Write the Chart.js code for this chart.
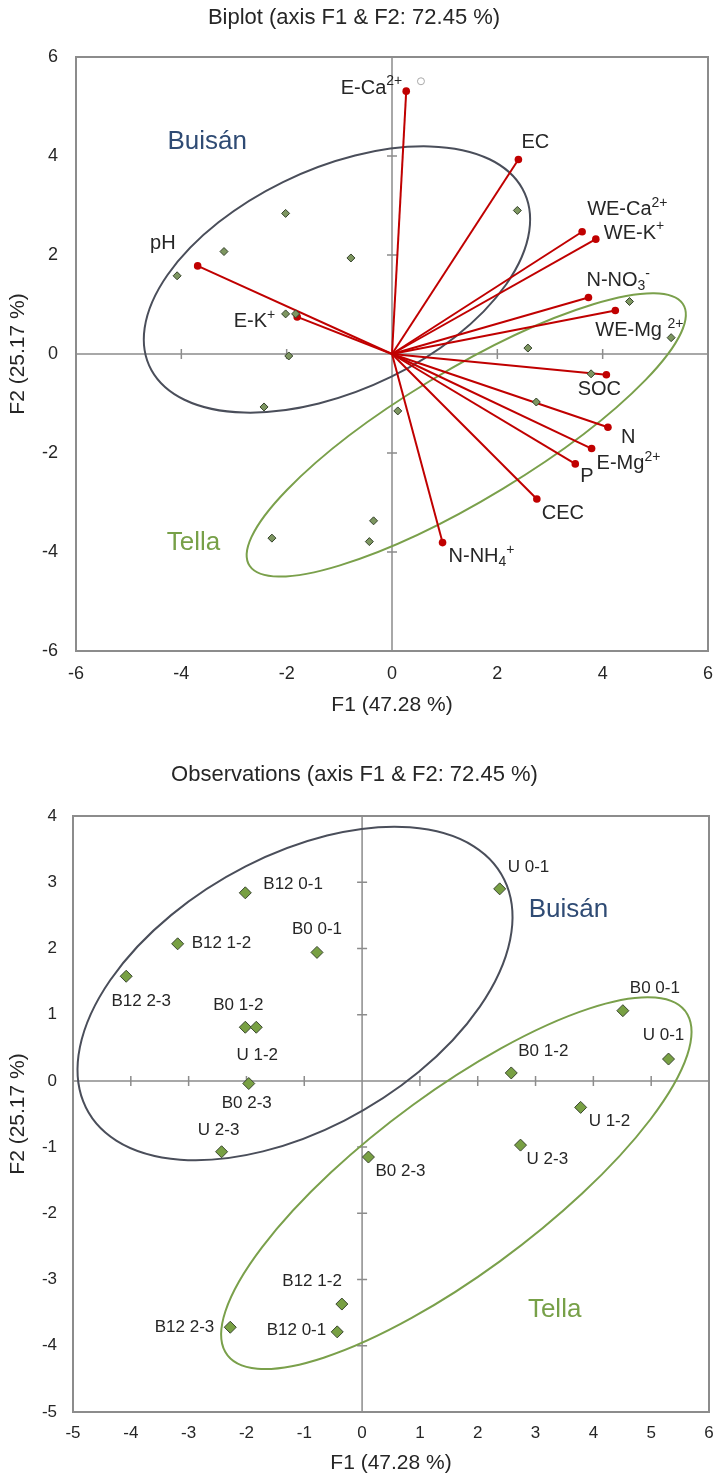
<!DOCTYPE html>
<html>
<head>
<meta charset="utf-8">
<script src="https://cdn.jsdelivr.net/npm/chart.js@4.4.1/dist/chart.umd.min.js"></script>
<style>
  body { margin: 0; background: #fff; }
  .box { position: relative; width: 716px; }
  #top { height: 725px; }
  #bottom { height: 752px; }
</style>
</head>
<body>
<div class="box" id="top"><canvas id="biplot"></canvas></div>
<div class="box" id="bottom"><canvas id="obsplot"></canvas></div>
<script>
// observations (scores on F1 / F2)
const obsNames = ["B12 0-1", "B12 1-2", "B12 2-3", "B0 0-1", "B0 1-2", "U 1-2", "B0 2-3", "U 2-3", "U 0-1",
                  "B0 2-3", "B12 1-2", "B12 0-1", "B12 2-3", "B0 0-1", "U 0-1", "B0 1-2", "U 1-2", "U 2-3"];
const obsF1 = [-2.02, -3.19, -4.08, -0.78, -2.02, -1.83, -1.96, -2.43, 2.38,
               0.11, -0.35, -0.43, -2.28, 4.51, 5.30, 2.58, 3.78, 2.74];
const obsF2 = [2.84, 2.07, 1.58, 1.94, 0.81, 0.81, -0.04, -1.07, 2.90,
               -1.15, -3.37, -3.79, -3.72, 1.06, 0.33, 0.12, -0.40, -0.97];

// variables (loadings), ^{} = superscript, _{} = subscript
const varNames = ["E-Ca^{2+}", "EC", "WE-Ca^{2+}", "WE-K^{+}", "N-NO_{3}^{-}", "WE-Mg ^{2+}", "pH", "E-K^{+}",
                  "SOC", "N", "E-Mg^{2+}", "P", "CEC", "N-NH_{4}^{+}"];
const varF1 = [0.27, 2.40, 3.61, 3.87, 3.73, 4.24, -3.69, -1.80, 4.07, 4.10, 3.79, 3.48, 2.75, 0.96];
const varF2 = [5.31, 3.93, 2.47, 2.32, 1.14, 0.88, 1.78, 0.75, -0.42, -1.48, -1.91, -2.22, -2.93, -3.81];

// supplementary point (open circle)
const suppF1 = [0.55];
const suppF2 = [5.51];

// groups
const groupNames = ["Buisán", "Tella"];
// confidence ellipses: centre, semi-axes, angle (deg)
const biEllCx = [-1.045, 1.41];
const biEllCy = [1.505, -1.635];
const biEllA = [3.97, 4.89];
const biEllB = [2.22, 1.29];
const biEllAng = [27.5, 32.8];
const obEllCx = [-1.16, 1.63];
const obEllCy = [1.32, -1.545];
const obEllA = [4.01, 4.74];
const obEllB = [2.10, 1.40];
const obEllAng = [24, 32.5];
// where the group names sit
const biGroupX = [-3.51, -3.77];
const biGroupY = [4.29, -3.82];
const obGroupX = [3.57, 3.33];
const obGroupY = [2.58, -3.46];

// ---- styles ----
const FONT = "'Liberation Sans', Arial, sans-serif";
const TXT = "#262626";
const AXIS = "#8c8c8c";
const RED = "#c00000";
const groupColors = ["#2f4b74", "#77a048"];
const ellColors = ["#4a4e5a", "#7aa04b"];

// label placement [align, dx, dy] in px
const varLabelPos = [["right", -4, -3], ["left", 3, -17], ["left", 5, -22], ["left", 8, -6], ["left", -2, -17],
  ["left", -20, 20], ["right", -22, -22], ["right", -22, 5], ["center", -7, 15], ["left", 13, 10],
  ["left", 5, 15], ["left", 5, 13], ["left", 5, 14], ["left", 6, 14]];
const obsLabelPos = [["left", 18, -9], ["left", 14, 0], ["center", 15, 25], ["center", 0, -23], ["center", -7, -22],
  ["center", 1, 28], ["center", -2, 20], ["center", -3, -21], ["left", 8, -22],
  ["left", 7, 14], ["right", 0, -23], ["right", -11, -2], ["right", -16, 0], ["left", 7, -22],
  ["center", -5, -24], ["left", 7, -22], ["left", 8, 14], ["left", 6, 14]];

function parseRich(s) {
  const segs = [];
  const re = /([\^_])\{([^}]*)\}|([^\^_]+)/g;
  let m;
  while ((m = re.exec(s))) {
    if (m[3]) segs.push({ t: m[3], k: "n" });
    else segs.push({ t: m[2], k: m[1] === "^" ? "sup" : "sub" });
  }
  return segs;
}

function drawRich(ctx, s, x, y, align, size, color) {
  const segs = parseRich(s);
  const small = Math.round(size * 0.72);
  let w = 0;
  segs.forEach(g => {
    ctx.font = (g.k === "n" ? size : small) + "px " + FONT;
    g.w = ctx.measureText(g.t).width;
    w += g.w;
  });
  let cx = align === "left" ? x : align === "right" ? x - w : x - w / 2;
  ctx.textAlign = "left";
  ctx.textBaseline = "middle";
  ctx.fillStyle = color;
  segs.forEach(g => {
    ctx.font = (g.k === "n" ? size : small) + "px " + FONT;
    const dy = g.k === "sup" ? -size * 0.33 : g.k === "sub" ? size * 0.28 : 0;
    ctx.fillText(g.t, cx, y + dy);
    cx += g.w;
  });
}

// zero axes with crossing tick marks, outer frame, ellipses
function backdrop(ell) {
  return {
    id: "backdrop",
    beforeDatasetsDraw(chart) {
      const { ctx, chartArea: a, scales: { x, y } } = chart;
      const x0 = x.getPixelForValue(0), y0 = y.getPixelForValue(0);
      ctx.save();
      ctx.strokeStyle = AXIS;
      ctx.lineWidth = 1.5;
      ctx.beginPath();
      ctx.moveTo(a.left, y0); ctx.lineTo(a.right, y0);
      ctx.moveTo(x0, a.top); ctx.lineTo(x0, a.bottom);
      x.ticks.forEach(t => {
        const p = x.getPixelForValue(t.value);
        ctx.moveTo(p, y0 - 5); ctx.lineTo(p, y0 + 5);
      });
      y.ticks.forEach(t => {
        const p = y.getPixelForValue(t.value);
        ctx.moveTo(x0 - 5, p); ctx.lineTo(x0 + 5, p);
      });
      ctx.stroke();
      ctx.lineWidth = 2;
      ctx.strokeRect(a.left, a.top, a.right - a.left, a.bottom - a.top);

      const kx = x.getPixelForValue(1) - x0;
      const ky = y0 - y.getPixelForValue(1);
      ell.cx.forEach((cx, i) => {
        ctx.save();
        ctx.translate(x0, y0);
        ctx.scale(kx, -ky);
        ctx.beginPath();
        ctx.ellipse(cx, ell.cy[i], ell.a[i], ell.b[i], ell.ang[i] * Math.PI / 180, 0, Math.PI * 2);
        ctx.restore();
        ctx.strokeStyle = ellColors[i];
        ctx.lineWidth = 2;
        ctx.stroke();
      });
      ctx.restore();
    }
  };
}

function groupText(gx, gy) {
  return {
    id: "groupText",
    afterDatasetsDraw(chart) {
      const { ctx, scales: { x, y } } = chart;
      ctx.save();
      groupNames.forEach((g, i) => {
        ctx.font = "26px " + FONT;
        ctx.fillStyle = groupColors[i];
        ctx.textAlign = "center";
        ctx.textBaseline = "middle";
        ctx.fillText(g, x.getPixelForValue(gx[i]), y.getPixelForValue(gy[i]));
      });
      ctx.restore();
    }
  };
}

function axesOpts(min, max, step, ticksSize, tickPad, title, titlePad, fit) {
  return {
    type: "linear", min: min, max: max,
    grid: { display: false, drawTicks: false },
    border: { display: false },
    ticks: { stepSize: step, color: TXT, padding: tickPad, font: { size: ticksSize, family: FONT } },
    title: { display: true, text: title, color: TXT, padding: titlePad, font: { size: 21, family: FONT } },
    afterFit: s => {
      fit(s);
      s.paddingLeft = 0; s.paddingRight = 0; s.paddingTop = 0; s.paddingBottom = 0;
    }
  };
}

const obsPoints = obsF1.map((v, i) => ({ x: v, y: obsF2[i] }));

// ---- biplot ----
const vectorSets = varF1.map((v, i) => ({
  type: "scatter",
  data: [{ x: 0, y: 0 }, { x: v, y: varF2[i] }],
  showLine: true,
  borderColor: RED,
  borderWidth: 2,
  pointRadius: [0, 3.8],
  pointBackgroundColor: RED,
  pointBorderColor: RED,
  pointBorderWidth: 0
}));

new Chart(document.getElementById("biplot"), {
  type: "scatter",
  data: {
    datasets: [
      {
        data: obsPoints,
        pointStyle: "rectRot",
        pointRadius: 4,
        backgroundColor: "#7d9660",
        borderColor: "#34422a",
        borderWidth: 1
      },
      ...vectorSets,
      {
        data: suppF1.map((v, i) => ({ x: v, y: suppF2[i] })),
        pointRadius: 3.5,
        backgroundColor: "#ffffff",
        borderColor: "#a8a8a8",
        borderWidth: 1
      }
    ]
  },
  options: {
    responsive: true,
    maintainAspectRatio: false,
    animation: false,
    layout: { padding: { left: 0, right: 8, top: 0, bottom: 0 } },
    plugins: {
      legend: { display: false },
      tooltip: { enabled: false },
      title: {
        display: true,
        text: "Biplot (axis F1 & F2: 72.45 %)",
        color: TXT,
        font: { size: 22, family: FONT, weight: "normal" },
        padding: { top: 4.8, bottom: 25.8 }
      }
    },
    scales: {
      x: axesOpts(-6, 6, 2, 18, 12, "F1 (47.28 %)", { top: 0, bottom: 7.4 }, s => { s.height = 74; }),
      y: axesOpts(-6, 6, 2, 18, 18, "F2 (25.17 %)", { top: 5.4, bottom: 0 }, s => { s.width = 76; })
    }
  },
  plugins: [
    backdrop({ cx: biEllCx, cy: biEllCy, a: biEllA, b: biEllB, ang: biEllAng }),
    groupText(biGroupX, biGroupY),
    {
      id: "varLabels",
      afterDatasetsDraw(chart) {
        const ctx = chart.ctx;
        ctx.save();
        varNames.forEach((n, i) => {
          const pt = chart.getDatasetMeta(i + 1).data[1];
          const [al, dx, dy] = varLabelPos[i];
          drawRich(ctx, n, pt.x + dx, pt.y + dy, al, 20, TXT);
        });
        ctx.restore();
      }
    }
  ]
});

// ---- observations ----
new Chart(document.getElementById("obsplot"), {
  type: "scatter",
  data: {
    datasets: [{
      data: obsPoints,
      pointStyle: "rectRot",
      pointRadius: 6,
      backgroundColor: "#78a043",
      borderColor: "#3a4630",
      borderWidth: 1
    }]
  },
  options: {
    responsive: true,
    maintainAspectRatio: false,
    animation: false,
    layout: { padding: { left: 0, right: 7, top: 0, bottom: 0 } },
    plugins: {
      legend: { display: false },
      tooltip: { enabled: false },
      title: {
        display: true,
        text: "Observations (axis F1 & F2: 72.45 %)",
        color: TXT,
        font: { size: 22, family: FONT, weight: "normal" },
        padding: { top: 36.8, bottom: 27.8 }
      }
    },
    scales: {
      x: axesOpts(-5, 6, 1, 17, 11, "F1 (47.28 %)", { top: 0, bottom: 1.4 }, s => { s.height = 65; }),
      y: axesOpts(-5, 4, 1, 17, 16, "F2 (25.17 %)", { top: 5.4, bottom: 0 }, s => { s.width = 73; })
    }
  },
  plugins: [
    backdrop({ cx: obEllCx, cy: obEllCy, a: obEllA, b: obEllB, ang: obEllAng }),
    groupText(obGroupX, obGroupY),
    {
      id: "obsLabels",
      afterDatasetsDraw(chart) {
        const ctx = chart.ctx;
        const pts = chart.getDatasetMeta(0).data;
        ctx.save();
        obsNames.forEach((n, i) => {
          const [al, dx, dy] = obsLabelPos[i];
          drawRich(ctx, n, pts[i].x + dx, pts[i].y + dy, al, 17, TXT);
        });
        ctx.restore();
      }
    }
  ]
});
</script>
</body>
</html>
